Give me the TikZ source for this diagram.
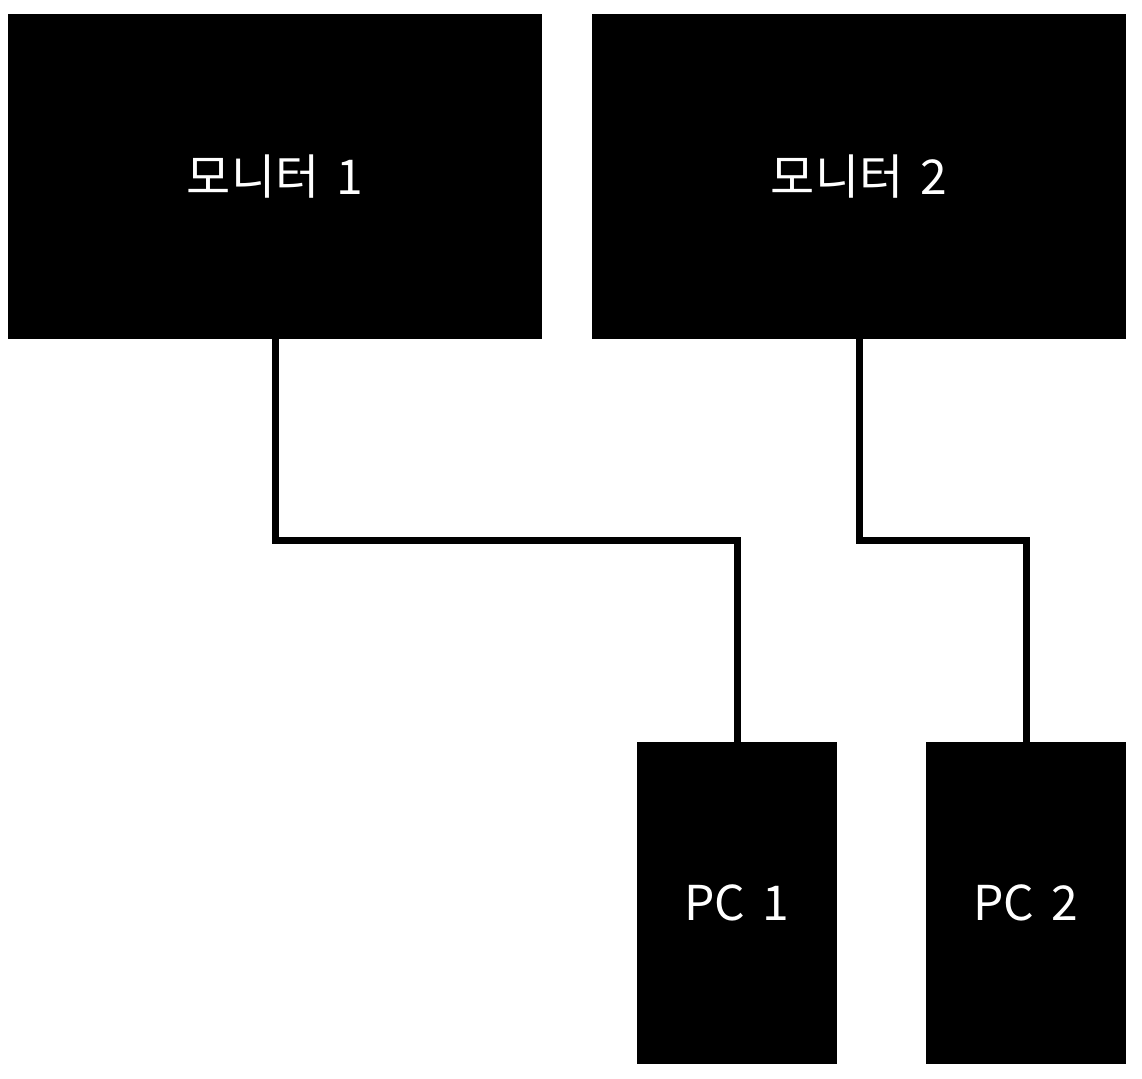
\documentclass[tikz,border=0pt]{standalone}
\usepackage{fontspec}
\newfontfamily\kr[WordSpace={1.6}]{Noto Sans CJK KR}
\begin{document}
\begin{tikzpicture}[x=1pt,y=-1pt,
  box/.style={fill=black,draw=none,text=white,font=\kr\fontsize{48}{56}\selectfont,inner sep=0pt},
  wire/.style={draw=black,line width=7pt}]
\useasboundingbox (0,0) rectangle (1142,1078);
\fill[white] (0,0) rectangle (1142,1078);
\node[box,minimum width=534pt,minimum height=325pt] (m1) at (275,176.5) {모니터 1};
\node[box,minimum width=534pt,minimum height=325pt] (m2) at (859,176.5) {모니터 2};
\node[box,minimum width=200pt,minimum height=322pt] (p1) at (737,903) {PC 1};
\node[box,minimum width=200pt,minimum height=322pt] (p2) at (1026,903) {PC 2};
\draw[wire] (m1.south) -- ++(0,201.5) -| (p1.north);
\draw[wire] (m2.south) -- ++(0,201.5) -| (p2.north);
\end{tikzpicture}
\end{document}
